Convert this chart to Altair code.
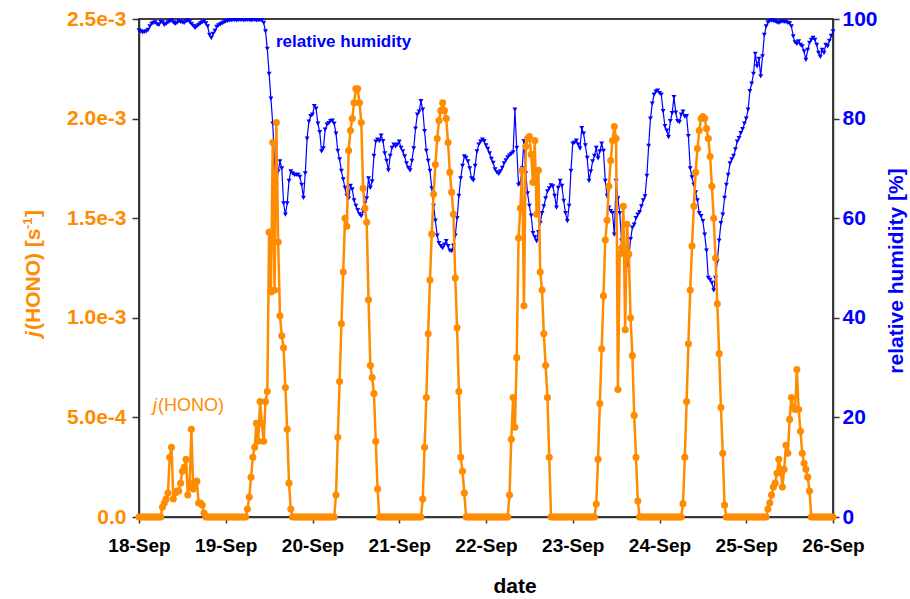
import altair as alt
import pandas as pd

# ---- data (30-min resolution, starting 18-Sep 00:00) ----
# j(HONO) in units of 1e-4 s^-1
jhono_18 = [0, 0, 0, 0, 0, 0, 0, 0, 0, 0, 0, 0, 0,
            0.5, 0.7, 0.9, 1.2, 3.0, 3.5, 0.9, 1.2, 1.3, 1.3, 1.7, 2.3, 2.5, 2.9, 1.1, 1.7, 4.4, 1.4, 1.7, 1.8, 0.7, 0.7, 0.6, 0.2,
            0, 0, 0, 0, 0, 0, 0, 0, 0, 0, 0]
jhono_19 = [0, 0, 0, 0, 0, 0, 0, 0, 0, 0, 0, 0,
            0.4, 1.0, 2.0, 3.0, 3.5, 4.7, 3.8, 5.8, 4.7, 3.8, 5.8, 6.3, 14.3, 11.3, 18.8, 11.4, 19.8, 13.8, 10.1, 9.1, 8.5, 6.5, 4.4, 1.7, 0.4,
            0, 0, 0, 0, 0, 0, 0, 0, 0, 0, 0]
jhono_20 = [0, 0, 0, 0, 0, 0, 0, 0, 0, 0, 0, 0, 0,
            1.1, 4.0, 6.8, 9.7, 12.3, 15.0, 14.6, 18.4, 19.4, 20.0, 20.8, 21.5, 21.5, 20.8, 19.8, 16.5, 15.5, 14.8, 10.9, 7.6, 7.0, 6.2, 3.8, 1.4,
            0, 0, 0, 0, 0, 0, 0, 0, 0, 0, 0]
jhono_21 = [0, 0, 0, 0, 0, 0, 0, 0, 0, 0, 0, 0, 0,
            0.9, 3.5, 6.0, 9.2, 11.9, 14.2, 16.2, 17.7, 19.0, 19.9, 20.4, 20.8, 20.4, 20.0, 18.8, 17.3, 16.3, 15.2, 12.0, 9.5, 6.3, 3.0, 2.3, 1.2,
            0, 0, 0, 0, 0, 0, 0, 0, 0, 0, 0]
jhono_22 = [0, 0, 0, 0, 0, 0, 0, 0, 0, 0, 0, 0, 0,
            1.1, 3.9, 6.0, 4.5, 8.0, 14.0, 15.5, 17.4, 10.6, 18.6, 19.0, 19.1, 18.2, 16.8, 18.9, 15.2, 17.4, 12.3, 11.4, 9.2, 7.6, 6.0, 3.0,
            0, 0, 0, 0, 0, 0, 0, 0, 0, 0, 0, 0]
jhono_23 = [0, 0, 0, 0, 0, 0, 0, 0, 0, 0, 0, 0, 0,
            0.65, 2.9, 5.7, 8.45, 11.1, 13.9, 14.9, 16.6, 17.9, 18.9, 19.6, 19.0, 6.4, 13.2, 13.5, 15.6, 9.4, 14.7, 13.2, 10.0, 8.1, 5.1, 3.0, 0.8,
            0, 0, 0, 0, 0, 0, 0, 0, 0, 0, 0]
jhono_24 = [0, 0, 0, 0, 0, 0, 0, 0, 0, 0, 0, 0, 0,
            0.67, 3.0, 5.8, 8.7, 11.4, 13.6, 15.6, 17.3, 18.5, 19.4, 20.0, 20.1, 20.0, 19.5, 19.0, 18.1, 16.6, 15.0, 13.0, 10.7, 8.2, 5.5, 3.2, 0.6,
            0, 0, 0, 0, 0, 0, 0, 0, 0, 0, 0]
jhono_25 = [0, 0, 0, 0, 0, 0, 0, 0, 0, 0, 0, 0,
            0.4, 0.7, 1.1, 1.5, 1.7, 2.2, 2.9, 2.4, 1.5, 2.4, 3.6, 3.2, 4.9, 6.0, 5.5, 5.4, 7.4, 5.4, 4.3, 3.2, 2.7, 2.4, 2.0, 1.3,
            0, 0, 0, 0, 0, 0, 0, 0, 0, 0, 0, 0, 0]

# relative humidity in %
rh_18 = [97.7, 97.5, 97.3, 97.4, 97.5, 97.8, 98.5, 99.0, 99.2, 99.3,
         98.9, 98.8, 99.4, 99.3, 98.8, 99.0, 99.3, 99.5, 99.7, 99.3,
         99.0, 99.2, 99.5, 99.4, 99.3, 99.2, 99.5, 99.7, 99.4, 99.0,
         98.6, 98.2, 98.5, 98.8, 99.1, 99.3, 99.5, 99.1, 98.5, 96.8,
         96.2, 97.0, 97.6, 98.4, 98.7, 98.9, 99.1, 99.3]
rh_19 = [99.5, 99.6, 99.7, 99.7, 99.8, 99.8, 99.7, 99.8, 99.8, 99.8,
         99.7, 99.8, 99.8, 99.8, 99.7, 99.8, 99.8, 99.7, 99.7, 99.8,
         99.7, 99.2, 97.5, 94.0, 89.0, 84.0, 79.0, 71.0, 66.5, 69.4,
         71.4, 70.0, 63.0, 60.7, 63.0, 67.5, 69.4, 69.0, 68.7, 68.7,
         68.7, 68.3, 66.7, 64.1, 69.0, 76.0, 79.4, 80.5]
rh_20 = [80.8, 82.5, 82.0, 79.0, 77.3, 73.4, 74.0, 77.8, 78.8, 79.1,
         79.5, 79.6, 79.0, 77.0, 73.5, 71.8, 69.5, 67.8, 66.1, 64.5,
         64.0, 66.5, 65.8, 63.6, 62.5, 61.6, 60.8, 60.4, 61.4, 63.0,
         64.0, 68.0, 66.1, 67.4, 72.5, 75.4, 75.8, 75.5, 76.6, 75.5,
         73.0, 71.5, 69.6, 72.5, 74.1, 74.8, 74.4, 74.8]
rh_21 = [75.4, 74.1, 73.4, 72.4, 71.0, 70.1, 69.6, 71.5, 74.0, 78.0,
         80.8, 81.4, 83.5, 81.8, 77.5, 73.5, 71.5, 69.5, 66.0, 62.5,
         59.5, 56.5, 55.0, 54.4, 54.0, 54.7, 55.4, 54.4, 53.5, 53.4,
         54.5, 56.5, 60.0, 64.5, 68.0, 70.5, 72.4, 72.1, 71.4, 70.0,
         68.0, 67.6, 70.5, 73.4, 74.8, 75.4, 75.8, 75.5]
rh_22 = [74.6, 73.9, 73.0, 71.9, 71.1, 69.8, 69.2, 68.9, 69.4, 70.1,
         71.0, 71.6, 72.2, 72.6, 72.9, 73.2, 81.8, 74.1, 66.7, 67.0,
         70.0, 75.5, 69.0, 65.0, 62.5, 60.5, 57.0, 56.2, 55.4, 57.2,
         59.0, 61.0, 62.4, 64.0, 65.4, 66.0, 66.6, 66.4, 64.5, 62.1,
         66.1, 67.5, 66.5, 63.5, 61.0, 59.4, 62.5, 69.5]
rh_23 = [75.0, 75.2, 75.6, 74.8, 74.0, 78.1, 77.0, 74.6, 72.1, 67.5,
         69.4, 71.4, 72.5, 74.1, 72.0, 73.4, 75.0, 73.5, 67.5, 64.5,
         62.1, 61.4, 61.0, 56.7, 67.5, 64.0, 61.0, 55.5, 52.7, 49.0,
         50.5, 52.0, 55.8, 58.1, 58.7, 60.0, 60.7, 61.2, 62.4, 63.6,
         64.4, 68.5, 74.5, 80.0, 83.0, 84.8, 85.4, 85.6]
rh_24 = [85.1, 84.8, 81.5, 78.5, 77.6, 76.3, 79.5, 81.1, 84.3, 81.2,
         79.5, 79.3, 80.8, 81.4, 80.4, 80.5, 76.5, 70.0, 68.2, 66.7,
         65.2, 63.6, 61.0, 60.4, 59.4, 56.7, 53.5, 48.0, 47.6, 47.0,
         45.5, 48.0, 51.4, 55.5, 59.0, 60.7, 64.1, 66.7, 68.7, 71.0,
         71.8, 72.5, 73.8, 75.4, 76.1, 77.1, 77.9, 79.0]
rh_25 = [80.0, 81.8, 85.5, 87.0, 89.0, 93.0, 90.5, 92.0, 88.5, 92.5,
         96.8, 98.5, 99.3, 99.6, 99.7, 99.6, 99.5, 99.3, 99.2, 99.4,
         99.5, 99.4, 99.4, 99.2, 99.1, 98.5, 96.5, 95.3, 95.0, 95.5,
         94.8, 94.5, 93.5, 91.8, 93.8, 95.2, 95.8, 96.2, 95.8, 94.8,
         93.2, 92.4, 93.8, 93.2, 94.8, 94.5, 95.6, 96.6, 97.5]

jh = jhono_18 + jhono_19 + jhono_20 + jhono_21 + jhono_22 + jhono_23 + jhono_24 + jhono_25
rh = rh_18 + rh_19 + rh_20 + rh_21 + rh_22 + rh_23 + rh_24 + rh_25

t_j = pd.date_range("2014-09-18 00:00", periods=len(jh), freq="30min").strftime("%Y-%m-%dT%H:%M:%S")
t_r = pd.date_range("2014-09-18 00:00", periods=len(rh), freq="30min").strftime("%Y-%m-%dT%H:%M:%S")
df_j = pd.DataFrame({"t": t_j, "j": [v * 1e-4 for v in jh]})
df_r = pd.DataFrame({"t": t_r, "rh": rh})

ORANGE = "#FF8C00"
BLUE = "#0000FF"
FONT = "Liberation Sans"

day_ticks = [alt.DateTime(year=2014, month=9, date=d) for d in range(18, 27)]

x_enc = alt.X(
    "t:T",
    scale=alt.Scale(domain=[day_ticks[0], day_ticks[-1]]),
    axis=alt.Axis(values=day_ticks, format="%d-%b", title=None, grid=False,
                  labelFont=FONT, labelFontSize=19, labelFontWeight="bold",
                  labelColor="black", labelPadding=13, tickSize=6,
                  labelFlush=False),
)

rh_chart = alt.Chart(df_r).mark_line(
    color=BLUE, strokeWidth=1.2,
    point=alt.OverlayMarkDef(shape="triangle-down", size=24, filled=True, color=BLUE),
).encode(
    x=x_enc,
    y=alt.Y("rh:Q", scale=alt.Scale(domain=[0, 100], nice=False),
            axis=alt.Axis(orient="right", values=[0, 20, 40, 60, 80, 100], title=None,
                          grid=False, labelColor=BLUE, labelFont=FONT,
                          labelFontSize=21, labelFontWeight="bold",
                          tickSize=6, labelPadding=3)),
)

j_chart = alt.Chart(df_j).mark_line(
    color=ORANGE, strokeWidth=2.5,
    point=alt.OverlayMarkDef(shape="circle", size=50, filled=True, color=ORANGE, opacity=1),
).encode(
    x=x_enc,
    y=alt.Y("j:Q", scale=alt.Scale(domain=[0, 0.0025], nice=False),
            axis=alt.Axis(orient="left", values=[0, 0.0005, 0.001, 0.0015, 0.002, 0.0025],
                          labelExpr="datum.value == 0 ? '0.0' : format(datum.value, '.1e')",
                          title=None, grid=False, labelColor=ORANGE, labelFont=FONT,
                          labelFontSize=21, labelFontWeight="bold",
                          tickSize=7, labelPadding=6)),
)

dummy = pd.DataFrame({"v": [0]})


def txt(text, x, y, size, color, weight="bold", style="normal", angle=0, align="left",
        baseline="alphabetic"):
    return alt.Chart(dummy).mark_text(
        text=text, font=FONT, fontSize=size, fontWeight=weight, fontStyle=style,
        color=color, angle=angle, align=align, baseline=baseline,
    ).encode(x=alt.value(x), y=alt.value(y))


texts = [
    txt("relative humidity", 137, 28, 17, BLUE),
    txt("j", 14, 392, 18, ORANGE, weight="normal", style="italic"),
    txt("(HONO)", 19, 392, 18, ORANGE, weight="normal"),
    # left axis title j(HONO) [s-1]
    txt("j", -99, 318, 21, ORANGE, style="italic", angle=270),
    txt("(HONO) [s", -99, 311, 21, ORANGE, angle=270),
    txt("-1", -107, 210, 13, ORANGE, angle=270),
    txt("]", -99, 198, 21, ORANGE, angle=270),
    # right axis title
    txt("relative humidity [%]", 764, 252, 21, BLUE, angle=270, align="center"),
    # x axis title
    txt("date", 376, 574, 21, "black", align="center"),
]

chart = alt.layer(rh_chart, j_chart, *texts).resolve_scale(y="independent").properties(
    width=694, height=498,
    autosize=alt.AutoSizeParams(type="none"),
    padding={"left": 139, "top": 19, "right": 77, "bottom": 82},
).configure_view(
    stroke="black", strokeWidth=1.5,
).configure_axis(
    domainColor="#333", domainWidth=1.5, tickColor="#333", tickWidth=1.5,
)

chart.save("out.html", embed_options={"renderer": "svg", "actions": False})
